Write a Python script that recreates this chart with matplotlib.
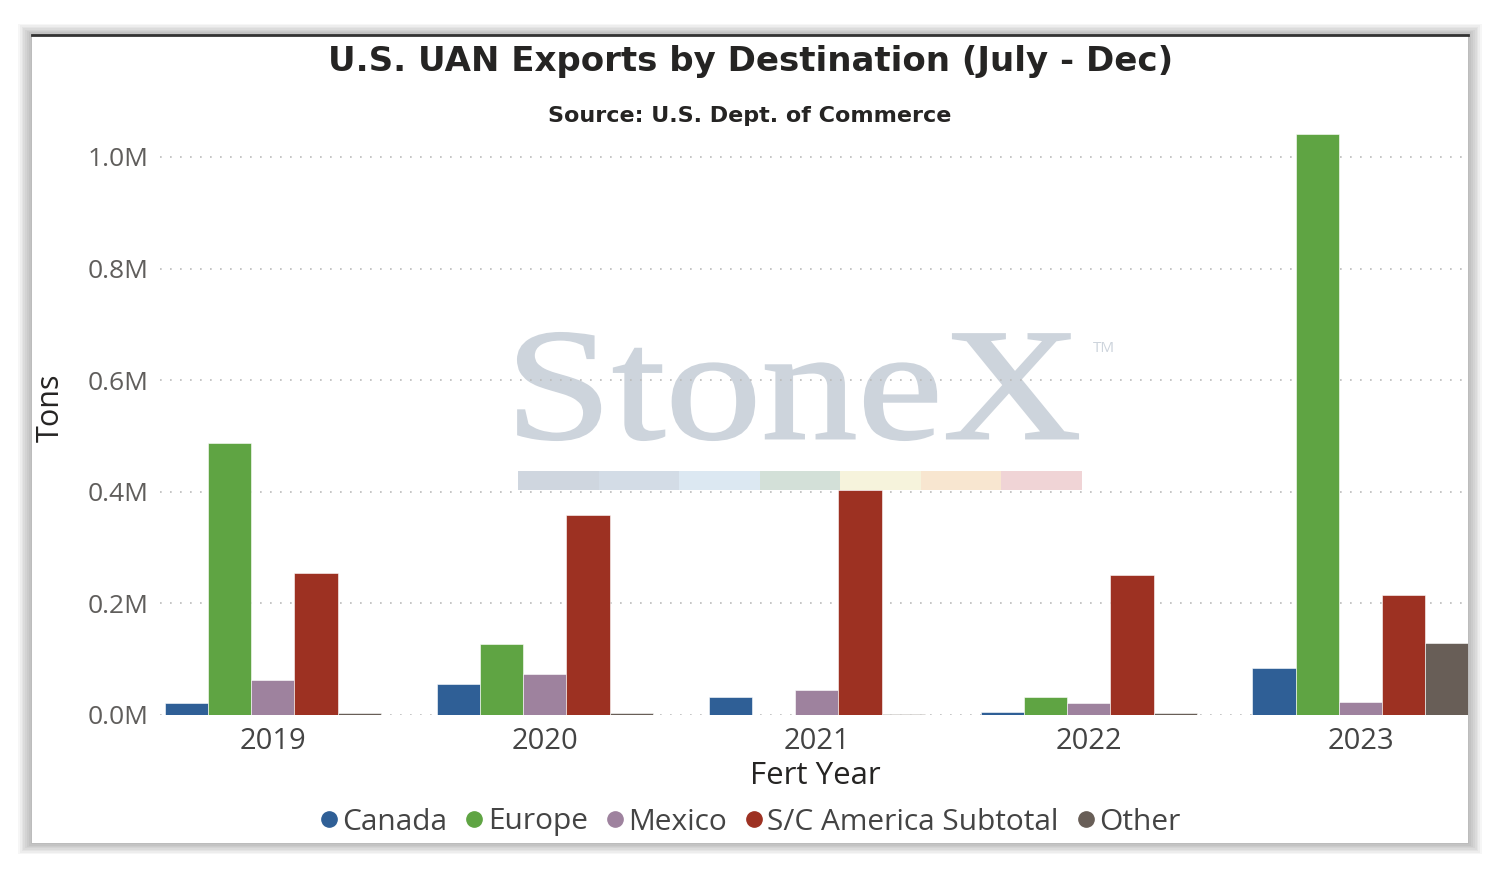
import matplotlib.pyplot as plt
import matplotlib.patches as mpatches
from matplotlib.ticker import FuncFormatter
from matplotlib.lines import Line2D
from matplotlib.textpath import TextPath
from matplotlib.font_manager import FontProperties
from matplotlib.transforms import Affine2D
import numpy as np

years = ["2019", "2020", "2021", "2022", "2023"]
series = ["Canada", "Europe", "Mexico", "S/C America Subtotal", "Other"]
canada = [22000, 56000, 32000, 5000, 84000]
europe = [487000, 127000, 0, 32000, 1041000]
mexico = [63000, 73000, 45000, 21000, 23000]
sc_america = [254000, 358000, 403000, 251000, 215000]
other = [3000, 3000, 2000, 3000, 129000]
colors = ["#2f5f96", "#5fa443", "#9e829e", "#9d3122", "#685e57"]

plt.rcParams["font.family"] = ["Open Sans", "DejaVu Sans"]

W, H = 1501, 876
fig = plt.figure(figsize=(W / 100, H / 100), dpi=100)
fig.patch.set_facecolor("white")

# soft shadow behind the card, then the card itself
for i in range(8):
    d = 14 - i * 1.8
    fig.patches.append(mpatches.Rectangle(((32 - d) / W, 1 - (843 + d * 0.8) / H), (1436 + 2 * d) / W,
                                          (808 + d * 1.6) / H, transform=fig.transFigure, facecolor="black",
                                          alpha=0.035, edgecolor="none", zorder=0))
fig.patches.append(mpatches.Rectangle((32 / W, 1 - 843 / H), 1436 / W, 808 / H, transform=fig.transFigure,
                                      facecolor="white", edgecolor="none", zorder=1))
fig.lines.append(Line2D([32 / W, 1468 / W], [1 - 35 / H, 1 - 35 / H], transform=fig.transFigure,
                        color="#333333", lw=2, zorder=2))

ax = fig.add_axes([160 / W, 1 - 715 / H, 1308 / W, 586 / H])
ax.set_facecolor("none")
ax.set_zorder(3)

# watermark, stretched into its box (pixels 518..1078 x 333..440)
tp = TextPath((0, 0), "StoneX", size=1, prop=FontProperties(family="Liberation Serif"))
ext = tp.get_extents()
sx = (560 / W) / ext.width
sy = (107 / H) / ext.height
tr = Affine2D().translate(-ext.x0, -ext.y0).scale(sx, sy).translate(518 / W, 1 - 440 / H)
fig.patches.append(mpatches.PathPatch(tr.transform_path(tp), transform=fig.transFigure, facecolor="#cdd4dc",
                                      edgecolor="#cdd4dc", lw=1.5, zorder=2))
fig.text(1104 / W, 1 - 348 / H, "TM", ha="center", va="center", fontsize=11, color="#cdd4dc", zorder=2)
strip = ["#cfd6df", "#d3dce6", "#dce8f2", "#d3e0d8", "#f6f3dc", "#f8e6d0", "#f0d4d6"]
sw = (1082 - 518) / len(strip)
for i, c in enumerate(strip):
    fig.patches.append(mpatches.Rectangle(((518 + i * sw) / W, 1 - 490 / H), sw / W, 19 / H,
                                          transform=fig.transFigure, facecolor=c, edgecolor="none", zorder=2))

data = [canada, europe, mexico, sc_america, other]
x = np.arange(len(years))
bw = 0.159
for i, (name, vals) in enumerate(zip(series, data)):
    ax.bar(x + (i - 2) * bw, vals, width=bw, color=colors[i], label=name, zorder=3,
           edgecolor="white", linewidth=0.4)

ax.set_xlim(-0.415, 4.395)
ax.set_ylim(0, 1.05e6)
ax.set_yticks([0, 2e5, 4e5, 6e5, 8e5, 1e6])
ax.yaxis.set_major_formatter(FuncFormatter(lambda v, p: f"{v / 1e6:.1f}M"))
ax.set_xticks(x)
ax.set_xticklabels(years)
ax.grid(axis="y", linestyle=(0, (1, 5)), color="#bbbbbb", lw=1.2, zorder=1)
for s in ax.spines.values():
    s.set_visible(False)
ax.tick_params(length=0, colors="#605e5c")
ax.tick_params(axis="y", pad=8.5, labelsize=19)
ax.tick_params(axis="x", pad=8.5, labelsize=21, labelcolor="#444444")

fig.text(815 / W, 1 - 776 / H, "Fert Year", ha="center", va="center", fontsize=22.5, color="#252423")
fig.text(51 / W, 1 - 408 / H, "Tons", ha="center", va="center", fontsize=22, rotation=90, color="#252423")

fig.text(751 / W, 1 - 61 / H, "U.S. UAN Exports by Destination (July - Dec)", ha="center", va="center",
         fontsize=24.5, fontweight="bold", color="#252423", family="DejaVu Sans")
fig.text(750 / W, 1 - 116 / H, "Source: U.S. Dept. of Commerce", ha="center", va="center",
         fontsize=16, fontweight="bold", color="#252423", family="DejaVu Sans")

handles = [Line2D([], [], marker="o", ls="none", color=c, markersize=11) for c in colors]
fig.legend(handles, series, loc="center", bbox_to_anchor=(748 / W, 1 - 822 / H), ncol=5, frameon=False,
           fontsize=21.5, handletextpad=0.0, columnspacing=0.45, labelcolor="#444444", handlelength=0.9)

fig.savefig("out.png", dpi=100)
